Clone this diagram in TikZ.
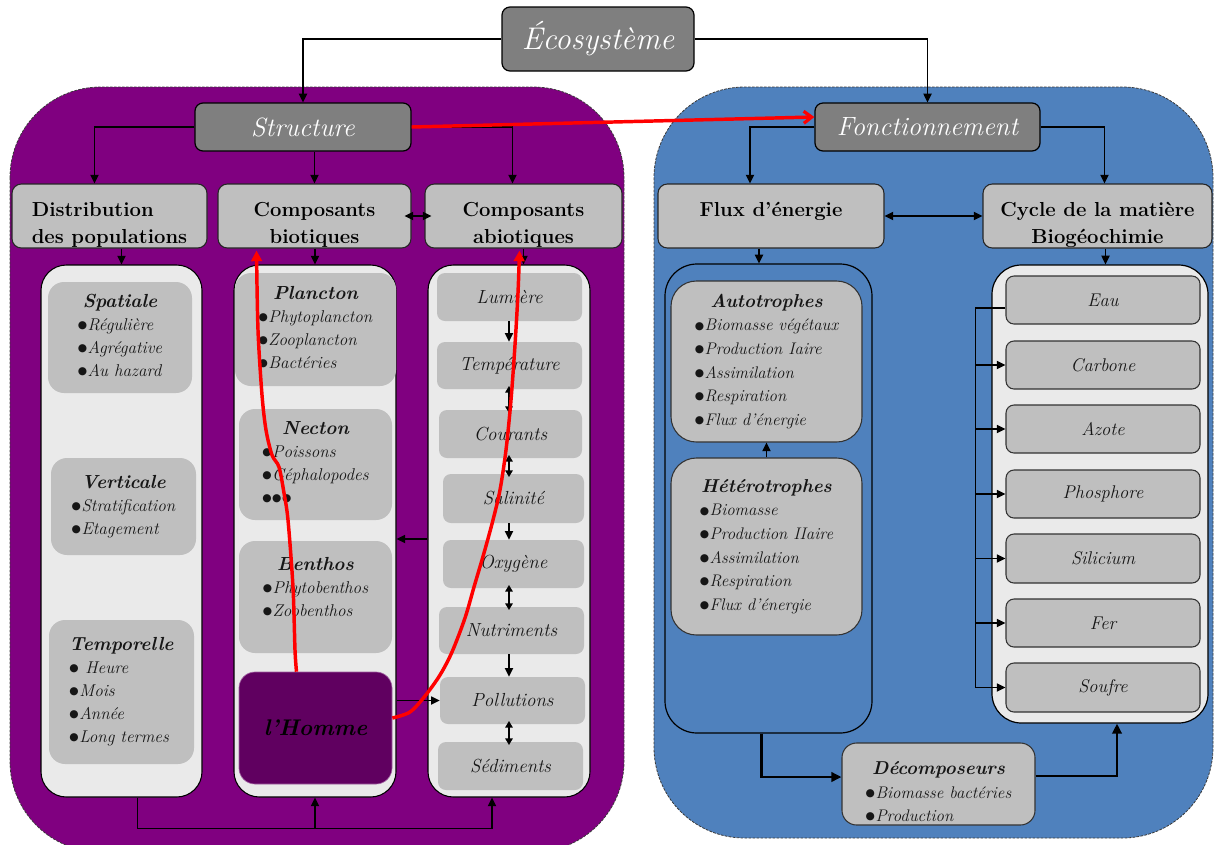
\documentclass[tikz,border=0pt]{standalone}
\usepackage{fontspec}
\newfontfamily\dotfont{DejaVu Sans}
\usetikzlibrary{arrows.meta,calc}

\definecolor{panelpurple}{HTML}{800080}
\definecolor{panelblue}{HTML}{4F81BD}
\definecolor{boxdark}{HTML}{7F7F7F}
\definecolor{boxmid}{HTML}{BFBFBF}
\definecolor{boxlight}{HTML}{EAEAEA}
\definecolor{hommefill}{HTML}{600060}
\definecolor{hommeedge}{HTML}{A060A0}
\definecolor{panelborder}{HTML}{3A3A3A}
\definecolor{ink}{HTML}{161616}
\definecolor{arrowred}{HTML}{FF0000}

% bullet, titled bullet list and header text
\newcommand\bul{\raisebox{1.3pt}{\upshape\dotfont\fontsize{8}{8}\selectfont ●}\kern0.4pt}
\newcommand\blist[3]{%
  \begin{tabular}{@{}l@{}}\multicolumn{1}{@{}c@{}}{\fontsize{#1}{17}\selectfont\bfseries #2}\\#3\end{tabular}}
\newcommand\hdtext[3]{\raisebox{#1}[\height][\depth]{\begin{tabular}{@{}#2@{}}#3\end{tabular}}}

\tikzset{
  sz/.style 2 args={minimum width=#1*0.75pt, minimum height=#2*0.75pt},
  panel/.style={draw=panelborder, line width=0.6pt, dash pattern=on 2pt off 1pt, rounded corners=68pt},
  topbox/.style={draw=black, fill=boxdark, line width=0.9pt, rounded corners=6pt,
    text=white, font=\itshape\fontsize{19.8}{22}\selectfont, inner sep=0pt},
  headbox/.style={draw=black!85, fill=boxmid, line width=0.8pt, rounded corners=7pt,
    text=black, font=\bfseries\fontsize{15.2}{20}\selectfont, inner sep=0pt},
  column/.style={draw=black, fill=boxlight, line width=0.8pt, rounded corners=19pt, inner sep=0pt},
  softbox/.style={fill=boxmid, rounded corners=12pt, inner sep=0pt, text=ink,
    font=\itshape\fontsize{12.8}{17.25}\selectfont},
  factor/.style={fill=boxmid, rounded corners=6pt, inner sep=0pt, text=ink,
    font=\itshape\fontsize{14.2}{17}\selectfont},
  homme/.style={fill=hommefill, draw=hommeedge, line width=0.5pt, rounded corners=12pt,
    inner sep=0pt, text=black, font=\bfseries\itshape\fontsize{17}{20}\selectfont},
  flowcol/.style={draw=black, fill=panelblue, line width=0.9pt, rounded corners=24pt, inner sep=0pt},
  cyclecolumn/.style={draw=black, fill=boxlight, line width=0.9pt, rounded corners=22pt, inner sep=0pt},
  trophic/.style={draw=black!80, fill=boxmid, line width=0.8pt, rounded corners=19pt, inner sep=0pt,
    text=ink, font=\itshape\fontsize{12.6}{17.7}\selectfont},
  element/.style={draw=black!80, fill=boxmid, line width=0.8pt, rounded corners=6pt, inner sep=0pt,
    text=ink, font=\itshape\fontsize{13.8}{16}\selectfont},
  tip/.tip={Triangle[length=6.5pt,width=6pt]},
  smalltip/.tip={Triangle[length=5pt,width=5.5pt]},
  conn/.style={draw=black, line width=1.3pt, -tip},
  conn2/.style={draw=black, line width=1.3pt, tip-tip},
  pair/.style={draw=black, line width=1.3pt, smalltip-smalltip, shorten <=-2.5pt, shorten >=-2.5pt},
  thickconn/.style={draw=black, line width=2.1pt, -{Triangle[length=7.5pt,width=7pt]}},
  redconn/.style={draw=arrowred, line width=2.6pt, -{Triangle[length=8pt,width=8pt]}},
  redbarb/.style={draw=arrowred, line width=2.6pt, -{Straight Barb[length=6pt,width=9pt,line width=2.4pt]}},
}

\begin{document}
\begin{tikzpicture}[x=0.75pt,y=-0.75pt]
\clip (0,0) rectangle (1215,844);
\fill[white] (0,0) rectangle (1215,844);

% the two halves of the ecosystem
\draw[panel, fill=panelpurple] (10,87) rectangle (624,852);
\draw[panel, fill=panelblue] (654,87) rectangle (1213,838);

% title boxes
\node[topbox, sz={192}{64}, font=\itshape\fontsize{23.5}{26}\selectfont] (eco) at (598,39) {Écosystème};
\node[topbox, sz={216}{48}] (struct) at (303,127) {Structure};
\node[topbox, sz={225}{48}] (fonc) at (927.5,127) {Fonctionnement};

% headers
\node[headbox, sz={195}{64}] (distr) at (109.5,216) {\hdtext{-6.5pt}{l}{Distribution\\des populations}};
\node[headbox, sz={193}{64}] (bio) at (314.5,216) {\hdtext{-6.5pt}{c}{Composants\\biotiques}};
\node[headbox, sz={197}{64}] (abio) at (523.5,216) {\hdtext{-6.5pt}{c}{Composants\\abiotiques}};
\node[headbox, sz={226}{64}] (flux) at (771,216) {\hdtext{4pt}{c}{Flux d'énergie}};
\node[headbox, sz={229}{64}] (cycle) at (1097.5,216) {\hdtext{-6.5pt}{c}{Cycle de la matière\\Biogéochimie}};

% structure columns
\node[column, sz={161}{532}] (col1) at (121.5,531) {};
\node[column, sz={162}{532}] (col2) at (315,531) {};
\node[column, sz={162}{532}] (col3) at (509,531) {};

% distribution of populations
\node[softbox, sz={144}{111}] (spat) at (120,337.5)
  {\blist{14.2}{Spatiale}{\bul Régulière\\\bul Agrégative\\\bul Au hazard}};
\node[softbox, sz={145}{97}] (vert) at (123.5,506.5)
  {\blist{14.2}{Verticale}{\bul Stratification\\\bul Etagement}};
\node[softbox, sz={145}{144}] (tempo) at (121.5,692)
  {\blist{14.2}{Temporelle}{\bul\ Heure\\\bul Mois\\\bul Année\\\bul Long termes}};

% biotic components
\node[softbox, sz={161}{113}] (plan) at (315.5,329.5)
  {\blist{14.2}{Plancton}{\bul Phytoplancton\\\bul Zooplancton\\\bul Bactéries}};
\node[softbox, sz={153}{111}] (nect) at (315.5,464.5)
  {\blist{14.2}{Necton}{\bul Poissons\\\bul Céphalopodes\\\bul\bul\bul}};
\node[softbox, sz={153}{112}] (benth) at (315.5,597)
  {\raisebox{6pt}[\height][\depth]{\blist{14.2}{Benthos}{\bul Phytobenthos\\\bul Zoobenthos}}};
\node[homme, sz={153}{112}] (homme) at (315.5,728) {l'Homme};

% abiotic components
\node[factor, sz={145}{48}] (lum) at (509.5,297) {Lumière};
\node[factor, sz={145}{47}] (tempe) at (509.5,365.5) {Température};
\node[factor, sz={143}{48}] (cour) at (510.5,434) {Courants};
\node[factor, sz={141}{49}] (sal) at (513.5,498.5) {Salinité};
\node[factor, sz={141}{48}] (oxy) at (513.5,564) {Oxygène};
\node[factor, sz={145}{47}] (nutr) at (511.5,630.5) {Nutriments};
\node[factor, sz={145}{47}] (poll) at (512.5,700.5) {Pollutions};
\node[factor, sz={145}{48}] (sed) at (510.5,766) {Sédiments};

% energy flow
\node[flowcol, sz={207}{469}] (fluxcol) at (768.5,498.5) {};
\node[trophic, sz={191}{161}] (auto) at (766.5,361.5)
  {\blist{14}{Autotrophes}{\bul Biomasse végétaux\\\bul Production Iaire\\\bul Assimilation\\\bul Respiration\\\bul Flux d'énergie}};
\node[trophic, sz={191}{177}] (hetero) at (766.5,546.5)
  {\blist{14}{Hétérotrophes}{\bul Biomasse\\\bul Production IIaire\\\bul Assimilation\\\bul Respiration\\\bul Flux d'énergie}};

% matter cycle
\node[cyclecolumn, sz={216}{458}] (cyclecol) at (1100,494) {};
\node[element, sz={194}{48}] (eau) at (1103,300) {Eau};
\node[element, sz={194}{48}] (carb) at (1103,365) {Carbone};
\node[element, sz={194}{48}] (azote) at (1103,429) {Azote};
\node[element, sz={194}{48}] (phos) at (1103,494) {Phosphore};
\node[element, sz={194}{49}] (sil) at (1103,558.5) {Silicium};
\node[element, sz={194}{48}] (fer) at (1103,623) {Fer};
\node[element, sz={194}{49}] (soufre) at (1103,687.5) {Soufre};

\node[trophic, rounded corners=11pt, sz={193}{82}] (decomp) at (938.5,784)
  {\raisebox{-7pt}[\height][\depth]{\blist{14}{Décomposeurs}{\bul Biomasse bactéries\\\bul Production}}};

% ---- connectors ----
\draw[conn] (eco.west) -| (struct.north);
\draw[conn] (eco.east) -| (fonc.north);

\path (distr.north) ++(-15,0) coordinate (distrin);
\path (abio.north) ++(-11,0) coordinate (abioin);
\draw[conn] (struct.west) -| (distrin);
\draw[conn] (struct.south -| bio.north) -- (bio.north);
\draw[conn] (struct.east) -| (abioin);
\path (bio.east) ++(-7,0) coordinate (bioe);
\path (abio.west) ++(7,0) coordinate (abiow);
\draw[conn2] (bioe) -- (abiow);

\draw[conn] (distr.south -| col1.north) -- (col1.north);
\draw[conn] (bio.south -| col2.north) -- (col2.north);
\draw[conn] (abio.south) -- (abio.south |- col3.north);

% chain of abiotic factors
\draw[conn] (lum.south -| col3.north) -- (tempe.north -| col3.north);
\draw[pair] (tempe.south -| col3.north) -- (cour.north -| col3.north);
\draw[pair] (cour.south -| col3.north) -- (sal.north -| col3.north);
\draw[conn] (sal.south -| col3.north) -- (oxy.north -| col3.north);
\draw[pair] (oxy.south -| col3.north) -- (nutr.north -| col3.north);
\draw[conn] (nutr.south -| col3.north) -- (poll.north -| col3.north);
\draw[pair] (poll.south -| col3.north) -- (sed.north -| col3.north);

\path (col3.west) ++(0,8) coordinate (c3w);
\draw[conn] (c3w) -- (c3w -| col2.east);
\draw[conn] (col2.east |- poll.west) -- (poll.west);

\path (col1.south) ++(16,0) coordinate (b1);
\path (col3.south) ++(-17,0) coordinate (b3);
\path (col2.south) ++(0,31) coordinate (bmid);
\draw[conn] (b1) |- (bmid) -| (b3);
\draw[conn] (bmid) -- (col2.south);

% functioning side
\path (flux.north) ++(-21,0) coordinate (fluxin);
\path (cycle.north) ++(7,0) coordinate (cyclein);
\draw[conn] (fonc.west) -| (fluxin);
\draw[conn] (fonc.east) -| (cyclein);
\draw[conn2] (flux.east) -- (cycle.west);
\path (flux.south) ++(-12,0) coordinate (fluxout);
\path (cycle.south) ++(8,0) coordinate (cycleout);
\draw[conn] (fluxout) -- (fluxout |- fluxcol.north);
\draw[conn] (cycleout) -- (cycleout |- cyclecol.north);
\draw[conn] (hetero.north) -- (auto.south);

\path (eau.west) ++(0,8) coordinate (eauout);
\path (eau.west) ++(-30,0) coordinate (bus);
\draw[conn] (eauout) -- (eauout -| bus) |- (soufre.west);
\foreach \n in {carb,azote,phos,sil,fer}
  \draw[conn] (bus |- \n.west) -- (\n.west);

\path (fluxcol.south) ++(-7,0) coordinate (fcout);
\path (decomp.west) ++(0,-7) coordinate (dwin);
\path (decomp.east) ++(0,-8) coordinate (deout);
\path (cyclecol.south) ++(17,0) coordinate (ccin);
\draw[thickconn] (fcout) |- (dwin);
\draw[thickconn] (deout) -| (ccin);

% human influence
\path (fonc.west) ++(0,-10) coordinate (fin);
\draw[redbarb] (struct.east) -- (fin);

\path (homme.north) ++(-19,0) coordinate (r1s);
\path (bio.south) ++(-58,2) coordinate (r1e);
\draw[redconn] plot[smooth, tension=0.5] coordinates
  {(r1s) (295,650) (293,587) (288,520) (284,493) (279,467) (272,455) (266,430) (262,395) (258,330) (r1e)};

\path (homme.east) ++(0,-10) coordinate (r2s);
\path (abio.south) ++(-4,2) coordinate (r2e);
\draw[redconn] plot[smooth, tension=0.5] coordinates
  {(r2s) (410,712) (425,696) (440,675) (452,652) (465,618) (474,587) (484,553) (493,520) (500,490) (506,450) (511,400) (515,345) (518,293) (r2e)};
\end{tikzpicture}
\end{document}
